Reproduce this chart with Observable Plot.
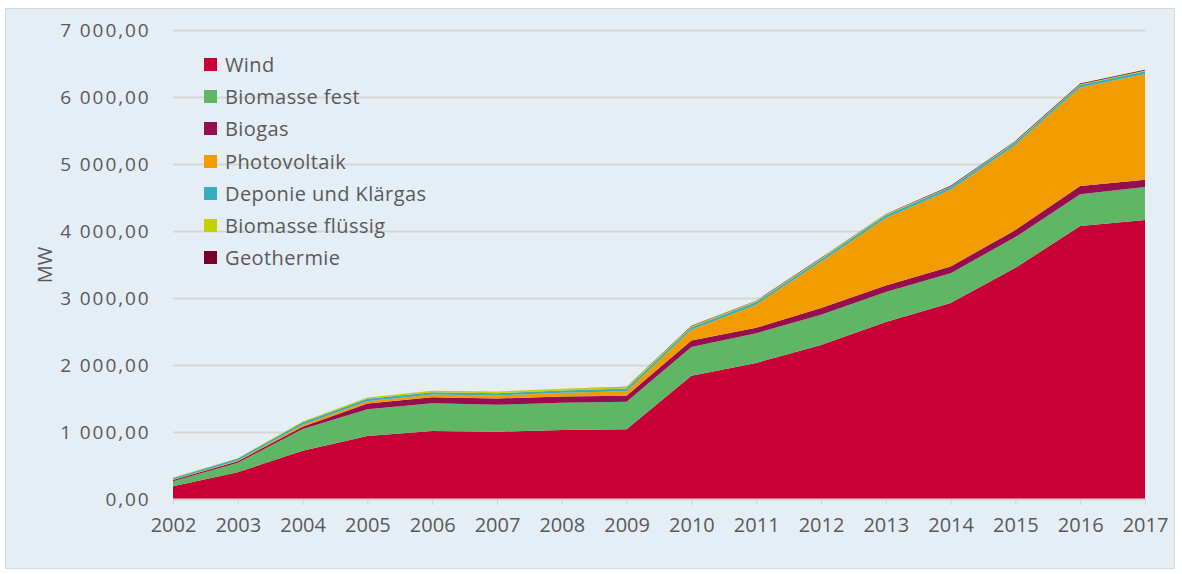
<!DOCTYPE html>
<html>
<head>
<meta charset="utf-8">
<script src="https://cdn.jsdelivr.net/npm/d3@7"></script>
<script src="https://cdn.jsdelivr.net/npm/@observablehq/plot@0.6"></script>
<style>
  html, body { margin:0; padding:0; background:#ffffff; }
  #wrap { position:relative; width:1182px; height:574px; overflow:hidden; }
  #panel { position:absolute; left:5px; top:8px; width:1170px; height:561px; background:#e6eef5; border:1px solid #d6d9dc; box-sizing:border-box; }
  #chart { position:absolute; left:0; top:0; }
  #chart g[aria-label="y-axis tick label"] text { letter-spacing:1.9px; }
  #legend { position:absolute; left:204px; top:48.5px; font-family:"Open Sans", sans-serif; font-size:20px; letter-spacing:0.4px; color:#595959; }
  #legend .item { height:32.2px; display:flex; align-items:center; white-space:nowrap; }
  #legend .sw { width:13px; height:13px; margin-right:8px; }
</style>
</head>
<body>
<div id="wrap">
  <div id="panel"></div>
  <div id="chart"></div>
  <div id="legend"></div>
</div>
<script>
const years = [2002,2003,2004,2005,2006,2007,2008,2009,2010,2011,2012,2013,2014,2015,2016,2017];
const wind        = [190, 400, 720, 940, 1015, 1005, 1030, 1040, 1840, 2030, 2300, 2640, 2925, 3450, 4075, 4165];
const biomasseFest= [75, 140, 325, 400, 415, 400, 405, 410, 430, 445, 450, 450, 445, 460, 475, 490];
const biogas      = [20, 25, 35, 85, 90, 95, 95, 90, 95, 80, 100, 95, 100, 105, 120, 110];
const photovoltaik= [5, 10, 30, 35, 40, 45, 55, 70, 160, 345, 690, 1010, 1145, 1270, 1470, 1580];
const deponie     = [25, 30, 35, 35, 35, 35, 35, 40, 40, 40, 40, 40, 40, 40, 40, 40];
const biomasseFl  = [5, 5, 10, 20, 20, 25, 25, 20, 15, 15, 15, 15, 10, 10, 10, 10];
const geothermie  = [0, 0, 0, 0, 0, 0, 0, 5, 5, 5, 5, 5, 10, 10, 10, 10];

const seriesNames = ["Wind","Biomasse fest","Biogas","Photovoltaik","Deponie und Klärgas","Biomasse flüssig","Geothermie"];
const seriesValues = [wind, biomasseFest, biogas, photovoltaik, deponie, biomasseFl, geothermie];
const seriesColors = ["#c70036","#5fb664","#960e50","#f29c00","#37aec0","#c4d100","#780026"];
const yTicks = [0,1000,2000,3000,4000,5000,6000,7000];

const data = [];
seriesNames.forEach((name, i) => {
  years.forEach((yr, j) => data.push({year: yr, series: name, value: seriesValues[i][j]}));
});

const fmt = d => d3.format(",.2f")(d).replace(/,/g, " ").replace(".", ",");

const chart = Plot.plot({
  width: 1182,
  height: 574,
  marginLeft: 173,
  marginRight: 37,
  marginTop: 30,
  marginBottom: 75,
  style: {background: "transparent", fontFamily: "'Open Sans', sans-serif", color: "#595959"},
  x: {domain: [2002, 2017]},
  y: {domain: [0, 7000]},
  color: {domain: seriesNames, range: seriesColors},
  marks: [
    Plot.gridY(yTicks, {stroke: "#d6d6d6", strokeOpacity: 1, strokeWidth: 2}),
    Plot.areaY(data, {x: "year", y: "value", z: "series", fill: "series", curve: "linear"}),
    Plot.ruleY([0], {stroke: "#d6d6d6", strokeWidth: 2}),
    Plot.axisY({ticks: yTicks, tickSize: 0, tickPadding: 23, tickFormat: fmt, fontSize: 19, fill: "#595959", label: null}),
    Plot.axisX({ticks: years, tickFormat: d => String(d), tickSize: 6, tickPadding: 12, stroke: "#d0d0d0", fill: "#595959", fontSize: 20, fontFamily: "'Liberation Sans Narrow', 'Open Sans', sans-serif", label: null}),
    Plot.text(["MW"], {frameAnchor: "left", dx: -128, rotate: -90, textAnchor: "middle", fontSize: 20, fill: "#595959"})
  ]
});
document.getElementById("chart").appendChild(chart);

const legend = document.getElementById("legend");
seriesNames.forEach((name, i) => {
  const item = document.createElement("div");
  item.className = "item";
  const sw = document.createElement("span");
  sw.className = "sw";
  sw.style.background = seriesColors[i];
  const label = document.createElement("span");
  label.textContent = name;
  item.appendChild(sw);
  item.appendChild(label);
  legend.appendChild(item);
});
</script>
</body>
</html>
